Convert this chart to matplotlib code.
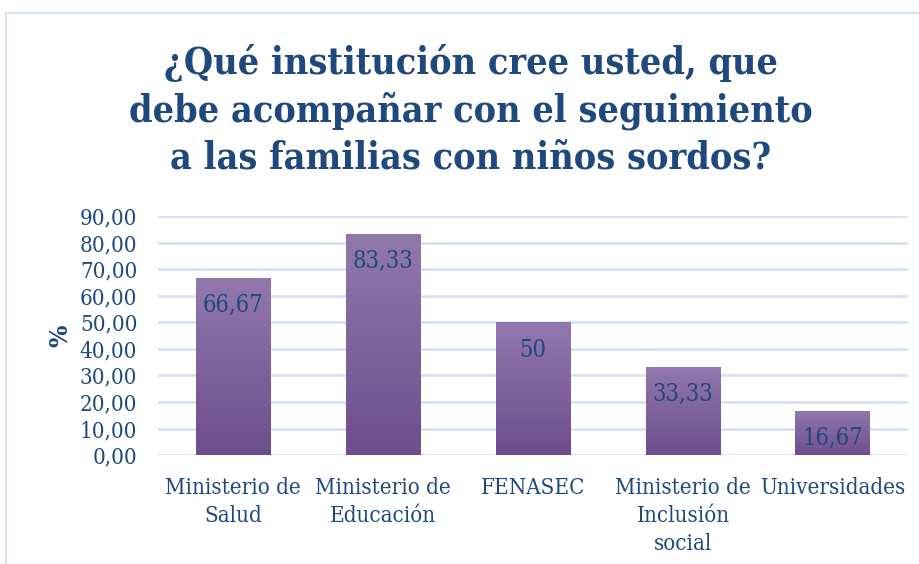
import numpy as np
import matplotlib.pyplot as plt
from matplotlib.lines import Line2D
from matplotlib.colors import LinearSegmentedColormap

categories = ['Ministerio de\nSalud', 'Ministerio de\nEducación', 'FENASEC',
              'Ministerio de\nInclusión\nsocial', 'Universidades']
values = [66.67, 83.33, 50, 33.33, 16.67]
value_labels = ['66,67', '83,33', '50', '33,33', '16,67']
yticks = [0, 10, 20, 30, 40, 50, 60, 70, 80, 90]
title = '¿Qué institución cree usted, que\ndebe acompañar con el seguimiento\na las familias con niños sordos?'

text_color = '#1F497D'
serif = ['DejaVu Serif']

fig = plt.figure(figsize=(9.19, 5.64), dpi=100)
ax = fig.add_axes([0.172, 0.193, 0.816, 0.424])

# chart frame (only top and left edges show)
fig.add_artist(Line2D([6/919, 1], [1 - 13/564, 1 - 13/564], color='#D6E2F2', lw=1.5))
fig.add_artist(Line2D([6/919, 6/919], [0, 1 - 13/564], color='#D6E2F2', lw=1.5))

x = np.arange(len(categories))
bars = ax.bar(x, values, width=0.5, color='#7D5F9F', zorder=2)

# vertical gradient fill, clipped to each bar
grad = np.linspace(0, 1, 256).reshape(-1, 1)
cmap = LinearSegmentedColormap.from_list('g', ['#6E4D8E', '#9179AD'])
for b in bars:
    x0, w, h = b.get_x(), b.get_width(), b.get_height()
    im = ax.imshow(grad, extent=[x0, x0 + w, 0, h], origin='lower', cmap=cmap,
                   aspect='auto', zorder=3)
    im.set_clip_path(b)

for xi, v, lab in zip(x, values, value_labels):
    ax.text(xi, v - 10.5, lab, ha='center', va='center', fontsize=17,
            color=text_color, family=serif, fontstretch='condensed', zorder=4)

ax.set_xlim(-0.5, len(categories) - 0.5)
ax.set_ylim(0, 90)
ax.set_yticks(yticks)
ax.set_yticklabels([('%.2f' % t).replace('.', ',') for t in yticks])
ax.set_xticks(x)
ax.set_xticklabels(categories, linespacing=1.35)
ax.tick_params(axis='y', length=0, pad=15, labelsize=16, labelcolor=text_color)
ax.tick_params(axis='x', length=0, pad=16, labelsize=16, labelcolor=text_color)
for lab in ax.get_xticklabels() + ax.get_yticklabels():
    lab.set_family(serif)
    lab.set_fontstretch('condensed')
ax.grid(axis='y', color='#D7E2F2', lw=2, zorder=0)
for s in ax.spines.values():
    s.set_visible(False)

ax.set_ylabel('%', fontsize=17, fontweight='bold', color=text_color,
              family=serif, labelpad=5)

fig.text(0.512, 1 - 110/564, title, ha='center', va='center', fontsize=27,
         fontweight='bold', color=text_color, family=serif,
         fontstretch='condensed', linespacing=1.33)

fig.savefig('out.png', dpi=100)
